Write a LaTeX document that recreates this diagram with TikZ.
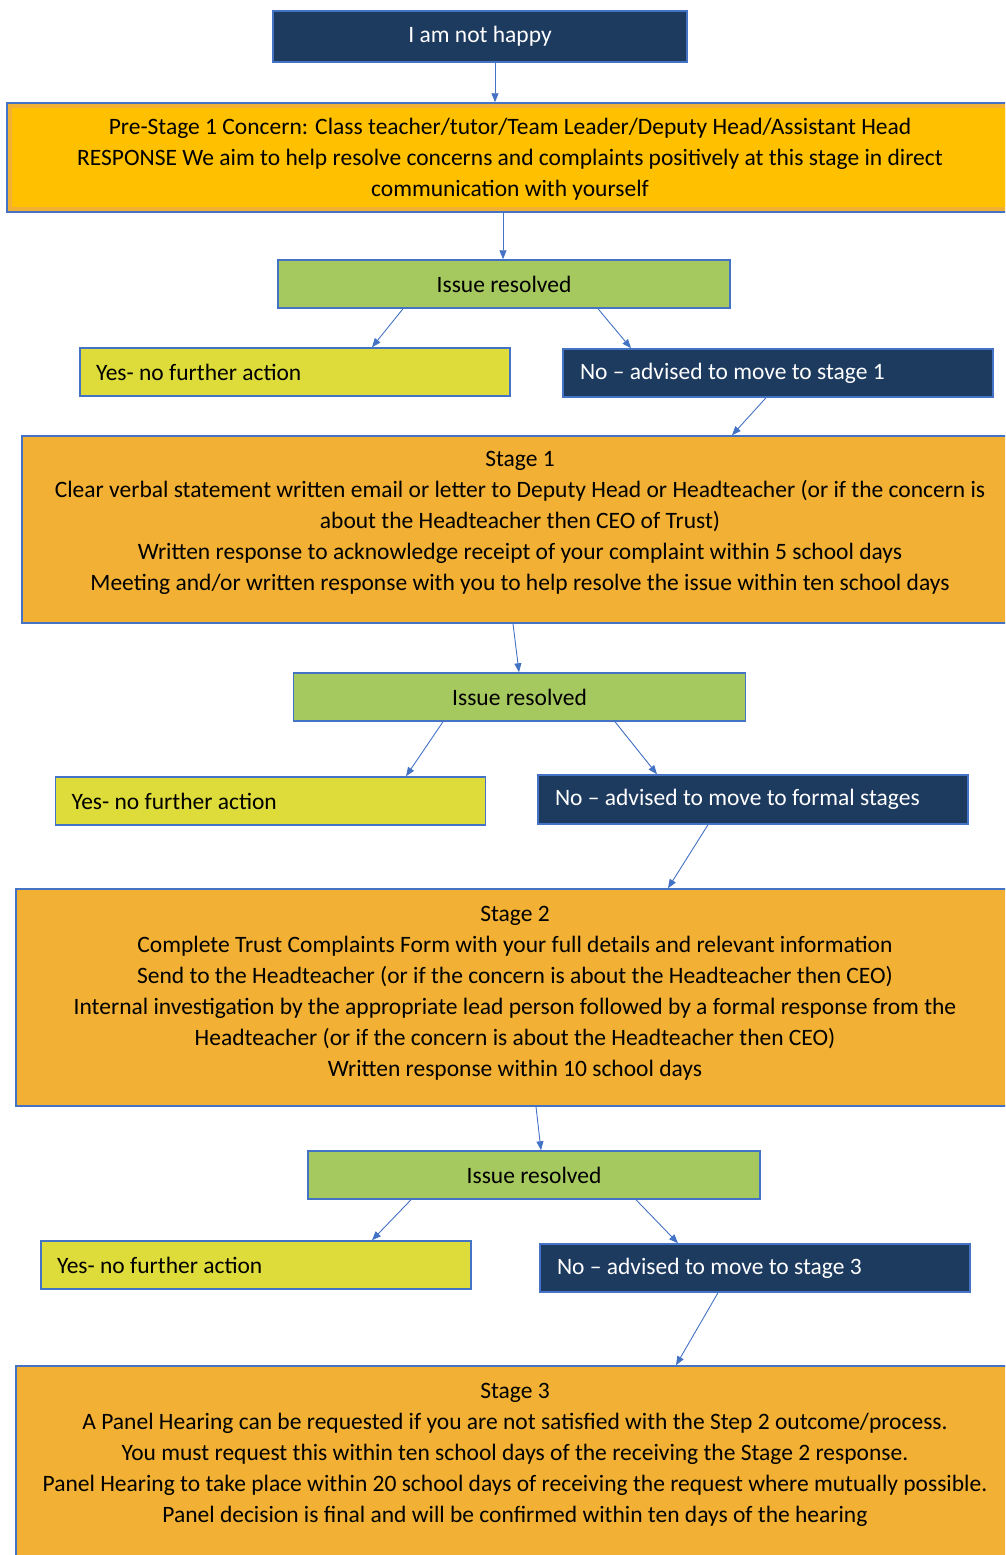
\documentclass[tikz,border=0pt]{standalone}
\usepackage{fontspec}
\setmainfont{Carlito}
\usetikzlibrary{arrows.meta,calc}
\definecolor{navy}{HTML}{1D3A5F}
\definecolor{edgeblue}{HTML}{4472C4}
\definecolor{gold}{HTML}{FFC000}
\definecolor{stageorange}{HTML}{F2B134}
\definecolor{leaf}{HTML}{A5C85F}
\definecolor{lemon}{HTML}{DEDC3A}
\newcommand{\diagfont}{\fontsize{23.5}{31}\selectfont}
\begin{document}
\begin{tikzpicture}[x=1pt,y=-1pt,
  box/.style={draw=edgeblue,line width=1.5pt,rectangle,inner sep=0pt},
  txt/.style={font=\diagfont,align=center,inner sep=0pt},
  navybox/.style={box,fill=navy,text=white,font=\diagfont},
  resolvedbox/.style={box,fill=leaf,minimum width=452pt,minimum height=48pt,font=\diagfont},
  yesbox/.style={box,fill=lemon,minimum width=430pt,minimum height=48pt,text width=398pt,inner xsep=16pt,align=flush left,font=\diagfont},
  nobox/.style={navybox,minimum width=430pt,minimum height=48pt,text width=396pt,inner xsep=17pt,align=flush left},
  stagebox/.style={box,fill=stageorange},
  arr/.style={draw=edgeblue,line width=0.9pt,-{Triangle[length=9pt,width=7pt]}}]
\useasboundingbox (0,0) rectangle (1005,1555);
\clip (0,0) rectangle (1005,1555);

% nodes
\node[navybox,minimum width=414pt,minimum height=51pt] (start) at (480,36.5) {I am not happy};

\node[stagebox,minimum width=1006pt,minimum height=109pt] (pre) at (510,157.5) {};
\fill[gold] (12,108) rectangle (1008,207);
\node[txt] (pretext) at (510,159) {Pre-Stage 1 Concern: Class teacher/tutor/Team Leader/Deputy Head/Assistant Head\\
RESPONSE We aim to help resolve concerns and complaints positively at this stage in direct\\
communication with yourself};

\node[resolvedbox] (ir1) at (504,284) {Issue resolved};
\node[yesbox] (yes1) at (295,372) {Yes- no further action};
\node[nobox] (no1) at (778,373) {No -- advised to move to stage 1};

\node[stagebox,minimum width=996pt,minimum height=187pt] (s1) at (520,529.5) {};
\node[txt] (s1text) at (520,523) {Stage 1\\
Clear verbal statement written email or letter to Deputy Head or Headteacher (or if the concern is\\
about the Headteacher then CEO of Trust)\\
Written response to acknowledge receipt of your complaint within 5 school days\\
Meeting and/or written response with you to help resolve the issue within ten school days};

\node[resolvedbox] (ir2) at (519.5,697) {Issue resolved};
\node[yesbox] (yes2) at (270.5,801) {Yes- no further action};
\node[nobox,minimum height=49pt] (no2) at (753,799.5) {No -- advised to move to formal stages};

\node[stagebox,minimum width=998pt,minimum height=217pt] (s2) at (515,997.5) {};
\node[txt] (s2text) at (515,993) {Stage 2\\
Complete Trust Complaints Form with your full details and relevant information\\
Send to the Headteacher (or if the concern is about the Headteacher then CEO)\\
Internal investigation by the appropriate lead person followed by a formal response from the\\
Headteacher (or if the concern is about the Headteacher then CEO)\\
Written response within 10 school days};

\node[resolvedbox] (ir3) at (534,1175) {Issue resolved};
\node[yesbox] (yes3) at (256,1265) {Yes- no further action};
\node[nobox] (no3) at (755,1268) {No -- advised to move to stage 3};

\node[stagebox,minimum width=998pt,minimum height=204pt] (s3) at (515,1468) {};
\node[txt] (s3text) at (515,1455) {Stage 3\\
A Panel Hearing can be requested if you are not satisfied with the Step 2 outcome/process.\\
You must request this within ten school days of the receiving the Stage 2 response.\\
Panel Hearing to take place within 20 school days of receiving the request where mutually possible.\\
Panel decision is final and will be confirmed within ten days of the hearing};

% connectors
\draw[arr] ([xshift=15pt]start.south) -- ([xshift=-15pt]pre.north);
\draw[arr] ([xshift=-7pt]pre.south) -- ([xshift=-1pt]ir1.north);
\draw[arr] ([xshift=-101pt]ir1.south) -- ([xshift=77pt]yes1.north);
\draw[arr] ([xshift=94pt]ir1.south) -- ([xshift=-147pt]no1.north);
\draw[arr] ([xshift=-12pt]no1.south) -- ([xshift=212pt]s1.north);
\draw[arr] ([xshift=-7pt]s1.south) -- ([xshift=-0.5pt]ir2.north);
\draw[arr] ([xshift=-76.5pt]ir2.south) -- ([xshift=135.5pt]yes2.north);
\draw[arr] ([xshift=95.5pt]ir2.south) -- ([xshift=-96pt]no2.north);
\draw[arr] ([xshift=-45pt]no2.south) -- ([xshift=153pt]s2.north);
\draw[arr] ([xshift=21pt]s2.south) -- ([xshift=7pt]ir3.north);
\draw[arr] ([xshift=-123pt]ir3.south) -- ([xshift=116pt]yes3.north);
\draw[arr] ([xshift=102pt]ir3.south) -- ([xshift=-77pt]no3.north);
\draw[arr] ([xshift=-37pt]no3.south) -- ([xshift=161pt]s3.north);
\end{tikzpicture}
\end{document}
